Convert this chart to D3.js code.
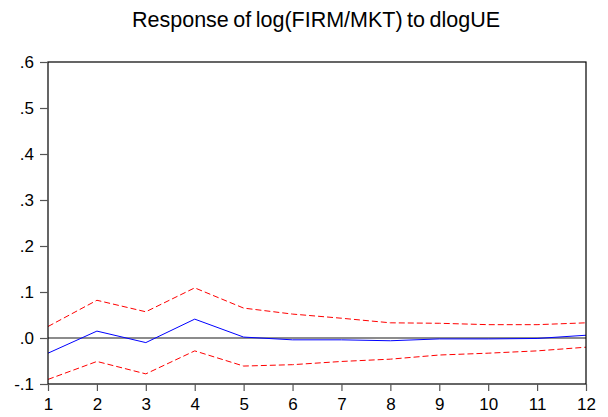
<!DOCTYPE html>
<html>
<head>
<meta charset="utf-8">
<script src="https://cdn.jsdelivr.net/npm/d3@7"></script>
<style>
  html, body { margin: 0; padding: 0; background: #fff; }
  svg { display: block; }
  text { font-family: Arial, "Liberation Sans", sans-serif; fill: #000; }
</style>
</head>
<body>
<svg id="chart" width="608" height="417"></svg>
<script>
// Impulse response of log(FIRM/MKT) to a dlogUE shock, with +/- 2 S.E. bands
const periods = [1, 2, 3, 4, 5, 6, 7, 8, 9, 10, 11, 12];
const response = [-0.033, 0.015, -0.010, 0.041, 0.002, -0.004, -0.004, -0.006, -0.002, -0.002, -0.001, 0.006];
const upperBand = [0.025, 0.082, 0.057, 0.109, 0.065, 0.052, 0.043, 0.033, 0.032, 0.029, 0.029, 0.033];
const lowerBand = [-0.090, -0.051, -0.078, -0.028, -0.061, -0.058, -0.051, -0.046, -0.037, -0.033, -0.028, -0.020];
const yTicks = [-0.1, 0.0, 0.1, 0.2, 0.3, 0.4, 0.5, 0.6];
const yTickLabels = ["-.1", ".0", ".1", ".2", ".3", ".4", ".5", ".6"];
const title = "Response of log(FIRM/MKT) to dlogUE";

const svg = d3.select("#chart");
const plot = { left: 48, right: 586, top: 62, bottom: 384 };

const x = d3.scaleLinear().domain([1, 12]).range([plot.left, plot.right]);
const y = d3.scaleLinear().domain([-0.1, 0.6]).range([plot.bottom, plot.top]);

// Title
svg.append("text")
  .attr("x", 316)
  .attr("y", 27)
  .attr("text-anchor", "middle")
  .style("font-size", "21.5px")
  .style("word-spacing", "-1.5px")
  .text(title);

// Zero reference line
svg.append("line")
  .attr("x1", plot.left).attr("x2", plot.right)
  .attr("y1", y(0)).attr("y2", y(0))
  .attr("stroke", "#666").attr("stroke-width", 1.3);

const line = d3.line()
  .x((d, i) => x(periods[i]))
  .y(d => y(d));

// Confidence bands
[upperBand, lowerBand].forEach(band => {
  svg.append("path")
    .datum(band)
    .attr("d", line)
    .attr("fill", "none")
    .attr("stroke", "#ff0000")
    .attr("stroke-width", 1)
    .attr("stroke-dasharray", "6,3");
});

// Point response
svg.append("path")
  .datum(response)
  .attr("d", line)
  .attr("fill", "none")
  .attr("stroke", "#0000ff")
  .attr("stroke-width", 1);

// Frame
svg.append("rect")
  .attr("x", plot.left).attr("y", plot.top)
  .attr("width", plot.right - plot.left)
  .attr("height", plot.bottom - plot.top)
  .attr("fill", "none")
  .attr("stroke", "#000").attr("stroke-width", 1.2);

// Left axis
const yAxis = d3.axisLeft(y)
  .tickValues(yTicks)
  .tickSize(8)
  .tickPadding(6)
  .tickFormat((d, i) => yTickLabels[i]);
const gy = svg.append("g").attr("transform", `translate(${plot.left},0)`).call(yAxis);
gy.select(".domain").remove();
gy.selectAll(".tick line").attr("stroke", "#555").attr("stroke-width", 1.2);
gy.selectAll(".tick text").style("font-size", "17px").style("font-family", "Arial, 'Liberation Sans', sans-serif");

// Bottom axis
const xAxis = d3.axisBottom(x)
  .tickValues(periods)
  .tickSize(7)
  .tickPadding(7)
  .tickFormat(d3.format("d"));
const gx = svg.append("g").attr("transform", `translate(0,${plot.bottom})`).call(xAxis);
gx.select(".domain").remove();
gx.selectAll(".tick line").attr("stroke", "#555").attr("stroke-width", 1.2);
gx.selectAll(".tick text").style("font-size", "17px").style("font-family", "Arial, 'Liberation Sans', sans-serif");
</script>
</body>
</html>
